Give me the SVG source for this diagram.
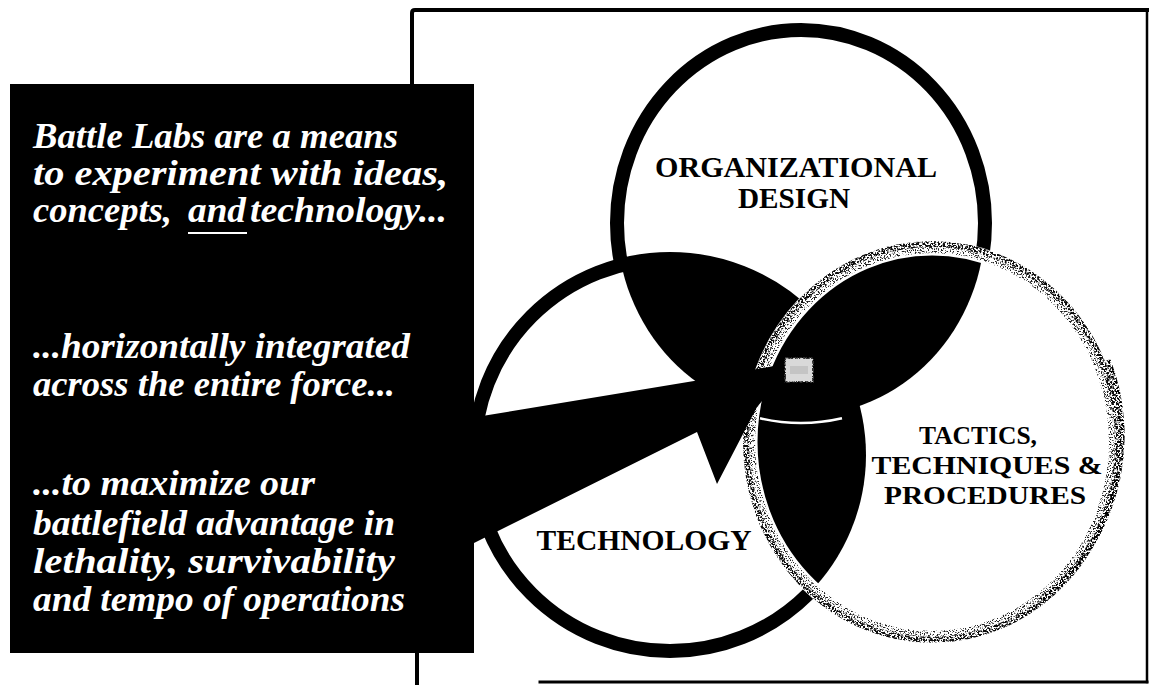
<svg xmlns="http://www.w3.org/2000/svg" width="1151" height="685" viewBox="0 0 1151 685">
<style>
.frame{fill:none;stroke:#000;stroke-linecap:square}
.ring{fill:#fff;stroke:#000;stroke-width:14}
.msg{font-family:"Liberation Serif","Times New Roman",serif;font-style:italic;font-weight:bold;font-size:36px;fill:#fff}
.lbl{font-family:"Liberation Serif","Times New Roman",serif;font-weight:bold;font-size:30px;fill:#000;text-anchor:middle}
.lbs{font-family:"Liberation Serif","Times New Roman",serif;font-weight:bold;font-size:26px;fill:#000;text-anchor:middle}
.lens{fill:#000}
</style>
<defs>
<clipPath id="clipO"><ellipse cx="801" cy="223" rx="184" ry="193"/></clipPath>
<clipPath id="clipT"><circle cx="670" cy="455" r="196"/></clipPath>
<filter id="speckle" x="-5%" y="-5%" width="110%" height="110%">
<feTurbulence type="fractalNoise" baseFrequency="0.55" numOctaves="2" seed="7" result="n"/>
<feColorMatrix in="n" type="matrix" values="0 0 0 0 0  0 0 0 0 0  0 0 0 0 0  -8 0 0 0 4.6" result="m"/>
<feComposite in="SourceGraphic" in2="m" operator="in"/>
</filter>
<filter id="speckleLight" x="-5%" y="-5%" width="110%" height="110%">
<feTurbulence type="fractalNoise" baseFrequency="0.7" numOctaves="2" seed="21" result="n"/>
<feColorMatrix in="n" type="matrix" values="0 0 0 0 0  0 0 0 0 0  0 0 0 0 0  -9 0 0 0 4.3" result="m"/>
<feComposite in="SourceGraphic" in2="m" operator="in"/>
</filter>
</defs>
<rect width="1151" height="685" fill="#fff"/>

<g id="frame">
<path class="frame" d="M412,84 L412,13 Q412,10 415,10 L1147,10" stroke-width="4"/>
<path class="frame" d="M1147,10 L1147,682" stroke-width="2.5"/>
<path class="frame" d="M540,682 L1147,682" stroke-width="3"/>
<path class="frame" d="M417,653 L417,685" stroke-width="4"/>
</g>

<g id="node-organizational">
<ellipse class="ring" cx="801" cy="223" rx="184" ry="193"/>
</g>
<g id="node-technology">
<circle class="ring" cx="670" cy="455" r="196"/>
</g>
<g id="node-ttp">
<ellipse cx="932" cy="442" rx="182" ry="194" fill="#fff"/>
</g>

<g id="overlaps">
<circle class="lens" cx="670" cy="455" r="196" clip-path="url(#clipO)"/>
<ellipse class="lens" cx="932" cy="442" rx="182" ry="194" clip-path="url(#clipO)"/>
<ellipse class="lens" cx="932" cy="442" rx="182" ry="194" clip-path="url(#clipT)"/>
<path d="M760,418.3 A191,200 0 0 0 842,418.3" fill="none" stroke="#fff" stroke-width="2.5"/>
</g>

<g id="ttp-outline">
<ellipse cx="932" cy="442" rx="182" ry="194" fill="none" stroke="#fff" stroke-width="15"/>
<ellipse cx="932" cy="442" rx="186" ry="198" fill="none" stroke="#111" stroke-width="6" filter="url(#speckle)"/>
<ellipse cx="932" cy="442" rx="180" ry="192" fill="none" stroke="#222" stroke-width="6" filter="url(#speckleLight)"/>
<path d="M1108,360 A186,198 0 0 1 1040,600" fill="none" stroke="#000" stroke-width="5" filter="url(#speckle)"/>
</g>

<g id="connectors">
<path id="arrow" d="M470,418 L700,380 L795,362 L757,407 L717,484 L697,432 L470,545 Z" fill="#000"/>
</g>

<g id="center-mark">
<rect x="785" y="358" width="28" height="24" fill="#d9d9d9"/>
<rect x="785" y="358" width="28" height="24" fill="none" stroke="#333" stroke-width="2" filter="url(#speckle)"/>
<rect x="790" y="366" width="18" height="8" fill="#c4c4c4"/>
</g>

<g id="node-message">
<rect x="10" y="84" width="464" height="569" fill="#000"/>
<text class="msg" x="33" y="148" textLength="365" lengthAdjust="spacingAndGlyphs">Battle Labs are a means</text>
<text class="msg" x="33" y="185" textLength="415" lengthAdjust="spacingAndGlyphs">to experiment with ideas,</text>
<text class="msg" x="33" y="222" textLength="139" lengthAdjust="spacingAndGlyphs">concepts,</text>
<text class="msg" x="188" y="222" textLength="58" lengthAdjust="spacingAndGlyphs">and</text>
<text class="msg" x="250" y="222" textLength="197" lengthAdjust="spacingAndGlyphs">technology...</text>
<line x1="188" y1="233" x2="247" y2="233" stroke="#fff" stroke-width="2"/>
<text class="msg" x="33" y="358" textLength="377" lengthAdjust="spacingAndGlyphs">...horizontally integrated</text>
<text class="msg" x="33" y="396" textLength="362" lengthAdjust="spacingAndGlyphs">across the entire force...</text>
<text class="msg" x="33" y="495" textLength="282" lengthAdjust="spacingAndGlyphs">...to maximize our</text>
<text class="msg" x="33" y="535" textLength="362" lengthAdjust="spacingAndGlyphs">battlefield advantage in</text>
<text class="msg" x="33" y="573" textLength="362" lengthAdjust="spacingAndGlyphs">lethality, survivability</text>
<text class="msg" x="33" y="611" textLength="372" lengthAdjust="spacingAndGlyphs">and tempo of operations</text>
</g>

<g id="labels">
<text class="lbl" x="796" y="177" textLength="282" lengthAdjust="spacingAndGlyphs">ORGANIZATIONAL</text>
<text class="lbl" x="794" y="208" textLength="112" lengthAdjust="spacingAndGlyphs">DESIGN</text>
<text class="lbl" x="644" y="550" textLength="215" lengthAdjust="spacingAndGlyphs">TECHNOLOGY</text>
<text class="lbs" x="978" y="444" textLength="118" lengthAdjust="spacingAndGlyphs">TACTICS,</text>
<text class="lbs" x="987" y="474" textLength="231" lengthAdjust="spacingAndGlyphs">TECHNIQUES &amp;</text>
<text class="lbs" x="985" y="504" textLength="202" lengthAdjust="spacingAndGlyphs">PROCEDURES</text>
</g>
</svg>
